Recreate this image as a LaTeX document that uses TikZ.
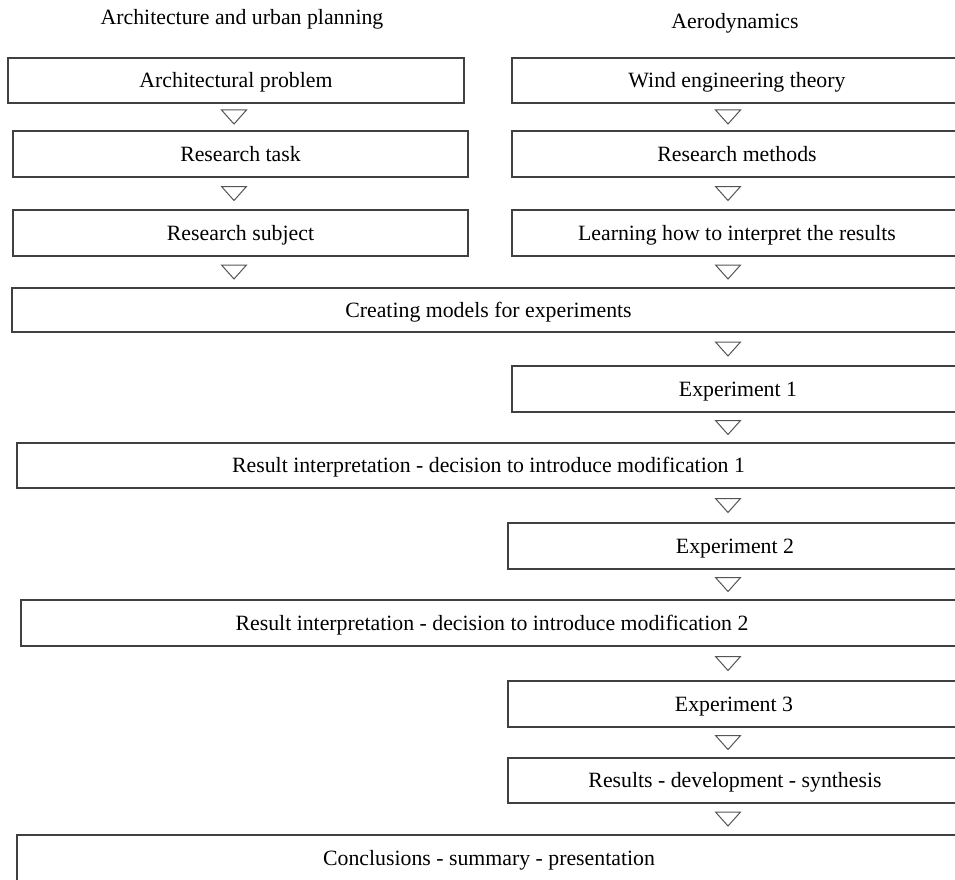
\documentclass[tikz,border=0pt]{standalone}
\usepackage{fontspec}
\setmainfont{Liberation Serif}
\usetikzlibrary{calc}
\definecolor{boxline}{HTML}{404040}
\definecolor{triline}{HTML}{555555}
\tikzset{
  stepbox/.style={draw=boxline, line width=1.3pt, rectangle, inner sep=0pt, outer sep=0pt,
    text height=15.5pt, text depth=1.5pt,
    font=\fontsize{21.8}{26}\selectfont},
  headtext/.style={inner sep=0pt, anchor=base, font=\fontsize{21.8}{26}\selectfont},
  trimark/.style={draw=triline, line width=1pt, line join=miter}
}
\newcommand\flowtri[3]{%
  \draw[trimark] let \p1=(#2.south), \p2=(#3.north) in
    ({#1pt-12.5pt},{0.5*\y1+0.5*\y2+7pt}) -- ({#1pt+12.5pt},{0.5*\y1+0.5*\y2+7pt})
    -- ({#1pt},{0.5*\y1+0.5*\y2-7pt}) -- cycle;}
\begin{document}
\begin{tikzpicture}[x=1pt,y=-1pt]
\useasboundingbox (0,0) rectangle (955,880);
\clip (0,0) rectangle (955,880);
\fill[white] (0,0) rectangle (955,880);
% headers
\node[headtext] (h1) at (242,25) {Architecture and urban planning};
\node[headtext] (h2) at (735,29) {Aerodynamics};
% left column
\node[stepbox, minimum width=456pt, minimum height=45pt] (ap) at (236,80.5) {Architectural problem};
\node[stepbox, minimum width=455pt, minimum height=46pt] (rt) at (240.5,154) {Research task};
\node[stepbox, minimum width=455pt, minimum height=46pt] (rs) at (240.5,233) {Research subject};
% right column
\node[stepbox, minimum width=450pt, minimum height=45pt] (wt) at (737,80.5) {Wind engineering theory};
\node[stepbox, minimum width=450pt, minimum height=46pt] (rm) at (737,154) {Research methods};
\node[stepbox, minimum width=450pt, minimum height=46pt] (lr) at (737,233) {Learning how to interpret the results};
% main flow
\node[stepbox, minimum width=953pt, minimum height=44pt] (cm) at (488.5,310) {Creating models for experiments};
\node[stepbox, minimum width=452pt, minimum height=46pt] (e1) at (738,389) {Experiment 1};
\node[stepbox, minimum width=943pt, minimum height=45pt] (r1) at (488.5,465.5) {Result interpretation - decision to introduce modification 1};
\node[stepbox, minimum width=454pt, minimum height=46pt] (e2) at (735,546) {Experiment 2};
\node[stepbox, minimum width=942pt, minimum height=46pt] (r2) at (492,623) {Result interpretation - decision to introduce modification 2};
\node[stepbox, minimum width=452pt, minimum height=46pt] (e3) at (734,704) {Experiment 3};
\node[stepbox, minimum width=454pt, minimum height=45pt] (rd) at (735,780.5) {Results - development - synthesis};
\node[stepbox, minimum width=944pt, minimum height=46pt] (cs) at (489,858) {Conclusions - summary - presentation};
% connectors (triangles)
\flowtri{234}{ap}{rt}
\flowtri{234}{rt}{rs}
\flowtri{234}{rs}{cm}
\flowtri{728}{wt}{rm}
\flowtri{728}{rm}{lr}
\flowtri{728}{lr}{cm}
\flowtri{728}{cm}{e1}
\flowtri{728}{e1}{r1}
\flowtri{728}{r1}{e2}
\flowtri{728}{e2}{r2}
\flowtri{728}{r2}{e3}
\flowtri{728}{e3}{rd}
\flowtri{728}{rd}{cs}
\end{tikzpicture}
\end{document}
